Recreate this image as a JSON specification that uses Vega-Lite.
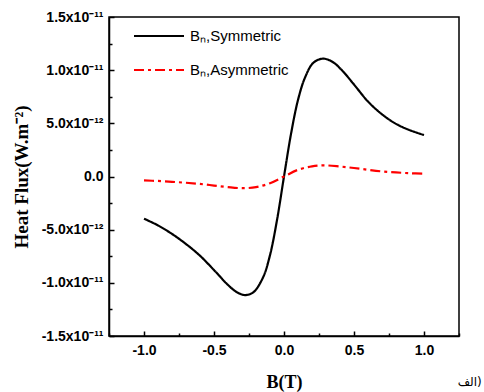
{
  "$schema": "https://vega.github.io/schema/vega-lite/v6.json",
  "autosize": "none",
  "width": 350,
  "height": 319,
  "padding": {"left": 109, "top": 17, "right": 25, "bottom": 56},
  "background": "white",
  "config": {
    "view": {"stroke": "black", "strokeWidth": 1.5},
    "axis": {"grid": false, "domainColor": "black", "domainWidth": 1.5, "tickColor": "black", "tickWidth": 1.5, "labelColor": "black", "titleColor": "black"}
  },
  "title": {"text": "‪الف)‬", "orient": "bottom", "anchor": "end", "font": "DejaVu Sans", "fontSize": 12, "fontWeight": "normal", "color": "black", "dx": 22, "dy": -14, "offset": 0},
  "data": {"values": [
    {"B": -1.0, "flux": -3.97e-12, "series": "Bₙ,Symmetric"},
    {"B": -0.9, "flux": -4.6e-12, "series": "Bₙ,Symmetric"},
    {"B": -0.8, "flux": -5.4e-12, "series": "Bₙ,Symmetric"},
    {"B": -0.7, "flux": -6.35e-12, "series": "Bₙ,Symmetric"},
    {"B": -0.6, "flux": -7.45e-12, "series": "Bₙ,Symmetric"},
    {"B": -0.5, "flux": -8.8e-12, "series": "Bₙ,Symmetric"},
    {"B": -0.4, "flux": -1.02e-11, "series": "Bₙ,Symmetric"},
    {"B": -0.34, "flux": -1.085e-11, "series": "Bₙ,Symmetric"},
    {"B": -0.28, "flux": -1.115e-11, "series": "Bₙ,Symmetric"},
    {"B": -0.22, "flux": -1.09e-11, "series": "Bₙ,Symmetric"},
    {"B": -0.15, "flux": -9.5e-12, "series": "Bₙ,Symmetric"},
    {"B": -0.1, "flux": -7.4e-12, "series": "Bₙ,Symmetric"},
    {"B": -0.05, "flux": -4.1e-12, "series": "Bₙ,Symmetric"},
    {"B": 0.0, "flux": 0.0, "series": "Bₙ,Symmetric"},
    {"B": 0.05, "flux": 4.0e-12, "series": "Bₙ,Symmetric"},
    {"B": 0.1, "flux": 7.2e-12, "series": "Bₙ,Symmetric"},
    {"B": 0.15, "flux": 9.3e-12, "series": "Bₙ,Symmetric"},
    {"B": 0.21, "flux": 1.07e-11, "series": "Bₙ,Symmetric"},
    {"B": 0.28, "flux": 1.108e-11, "series": "Bₙ,Symmetric"},
    {"B": 0.35, "flux": 1.075e-11, "series": "Bₙ,Symmetric"},
    {"B": 0.42, "flux": 9.9e-12, "series": "Bₙ,Symmetric"},
    {"B": 0.5, "flux": 8.65e-12, "series": "Bₙ,Symmetric"},
    {"B": 0.6, "flux": 7.05e-12, "series": "Bₙ,Symmetric"},
    {"B": 0.7, "flux": 5.85e-12, "series": "Bₙ,Symmetric"},
    {"B": 0.8, "flux": 4.95e-12, "series": "Bₙ,Symmetric"},
    {"B": 0.9, "flux": 4.35e-12, "series": "Bₙ,Symmetric"},
    {"B": 1.0, "flux": 3.9e-12, "series": "Bₙ,Symmetric"},
    {"B": -1.0, "flux": -3.7e-13, "series": "Bₙ,Asymmetric"},
    {"B": -0.9, "flux": -4.2e-13, "series": "Bₙ,Asymmetric"},
    {"B": -0.8, "flux": -5.0e-13, "series": "Bₙ,Asymmetric"},
    {"B": -0.7, "flux": -5.9e-13, "series": "Bₙ,Asymmetric"},
    {"B": -0.6, "flux": -7.0e-13, "series": "Bₙ,Asymmetric"},
    {"B": -0.5, "flux": -8.5e-13, "series": "Bₙ,Asymmetric"},
    {"B": -0.4, "flux": -1.0e-12, "series": "Bₙ,Asymmetric"},
    {"B": -0.29, "flux": -1.1e-12, "series": "Bₙ,Asymmetric"},
    {"B": -0.2, "flux": -1.0e-12, "series": "Bₙ,Asymmetric"},
    {"B": -0.1, "flux": -6.3e-13, "series": "Bₙ,Asymmetric"},
    {"B": 0.0, "flux": 0.0, "series": "Bₙ,Asymmetric"},
    {"B": 0.1, "flux": 6.3e-13, "series": "Bₙ,Asymmetric"},
    {"B": 0.2, "flux": 9.6e-13, "series": "Bₙ,Asymmetric"},
    {"B": 0.28, "flux": 1.05e-12, "series": "Bₙ,Asymmetric"},
    {"B": 0.4, "flux": 9.4e-13, "series": "Bₙ,Asymmetric"},
    {"B": 0.5, "flux": 8.0e-13, "series": "Bₙ,Asymmetric"},
    {"B": 0.6, "flux": 6.3e-13, "series": "Bₙ,Asymmetric"},
    {"B": 0.7, "flux": 4.8e-13, "series": "Bₙ,Asymmetric"},
    {"B": 0.8, "flux": 3.8e-13, "series": "Bₙ,Asymmetric"},
    {"B": 0.9, "flux": 3.1e-13, "series": "Bₙ,Asymmetric"},
    {"B": 1.0, "flux": 2.7e-13, "series": "Bₙ,Asymmetric"}
  ]},
  "layer": [
    {
      "mark": {"type": "line", "interpolate": "catmull-rom", "strokeWidth": 2.2},
      "encoding": {
        "x": {"field": "B", "type": "quantitative", "scale": {"domain": [-1.25, 1.25], "nice": false},
          "axis": {"orient": "bottom", "values": [-1, -0.5, 0, 0.5, 1], "tickSize": -5, "labelExpr": "datum.value < -0.75 ? '-1.0' : datum.value < -0.25 ? '-0.5' : datum.value < 0.25 ? '0.0' : datum.value < 0.75 ? '0.5' : '1.0'",
            "labelFont": "Liberation Sans", "labelFontWeight": "bold", "labelFontSize": 14, "labelPadding": 12,
            "title": "B(T)", "titleFont": "Liberation Serif", "titleFontWeight": "bold", "titleFontSize": 18, "titlePadding": 16}},
        "y": {"field": "flux", "type": "quantitative", "scale": {"domain": [-1.5e-11, 1.5e-11], "nice": false},
          "axis": {"orient": "left", "values": [-1.5e-11, -1e-11, -5e-12, 0, 5e-12, 1e-11, 1.5e-11], "tickSize": -5,
            "labelExpr": "round(datum.value*1e13) == 150 ? '1.5x10⁻¹¹' : round(datum.value*1e13) == 100 ? '1.0x10⁻¹¹' : round(datum.value*1e13) == 50 ? '5.0x10⁻¹²' : round(datum.value*1e13) == 0 ? '0.0' : round(datum.value*1e13) == -50 ? '-5.0x10⁻¹²' : round(datum.value*1e13) == -100 ? '-1.0x10⁻¹¹' : '-1.5x10⁻¹¹'",
            "labelFont": "Liberation Sans", "labelFontWeight": "bold", "labelFontSize": 14, "labelPadding": 11,
            "title": "Heat Flux(W.m⁻²)", "titleFont": "Liberation Serif", "titleFontWeight": "bold", "titleFontSize": 19, "titlePadding": 10}},
        "color": {"field": "series", "type": "nominal", "scale": {"domain": ["Bₙ,Symmetric", "Bₙ,Asymmetric"], "range": ["#000000", "#ff0000"]},
          "legend": {"orient": "none", "legendX": 24, "legendY": -7, "title": null, "symbolType": "stroke", "symbolSize": 2500, "symbolStrokeWidth": 2, "labelFont": "Liberation Sans", "labelFontSize": 15, "labelColor": "black", "rowPadding": -10, "labelOffset": 5}},
        "strokeDash": {"field": "series", "type": "nominal", "scale": {"domain": ["Bₙ,Symmetric", "Bₙ,Asymmetric"], "range": [[1, 0], [10, 4, 3, 4]]},
          "legend": {"orient": "none", "legendX": 24, "legendY": -7, "title": null, "symbolType": "stroke", "symbolSize": 2500, "symbolStrokeWidth": 2, "labelFont": "Liberation Sans", "labelFontSize": 15, "labelColor": "black", "rowPadding": -10, "labelOffset": 5}}
      }
    },
    {
      "mark": {"type": "point", "opacity": 0},
      "encoding": {
        "x": {"field": "B", "type": "quantitative", "axis": {"orient": "bottom", "values": [-1.25, -0.75, -0.25, 0.25, 0.75, 1.25], "tickSize": -3, "labels": false, "domain": false, "title": null}},
        "y": {"field": "flux", "type": "quantitative", "axis": {"orient": "left", "values": [-1.25e-11, -7.5e-12, -2.5e-12, 2.5e-12, 7.5e-12, 1.25e-11], "tickSize": -3, "labels": false, "domain": false, "title": null}}
      }
    }
  ],
  "resolve": {"axis": {"x": "independent", "y": "independent"}}
}
